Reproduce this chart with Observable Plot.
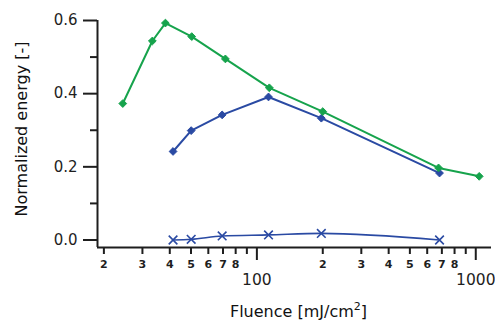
<!DOCTYPE html>
<html>
<head>
<meta charset="utf-8">
<script src="https://cdn.jsdelivr.net/npm/d3@7"></script>
<script src="https://cdn.jsdelivr.net/npm/@observablehq/plot@0.6"></script>
<style>
  html, body { margin: 0; padding: 0; background: #fff; }
  #chart { width: 495px; height: 323px; }
</style>
</head>
<body>
<div id="chart"></div>
<script>
// ---- data ----
const fluenceGreen = [24.4, 33.3, 38.2, 50.4, 71.8, 114, 200, 676, 1037];
const energyGreen  = [0.373, 0.544, 0.593, 0.556, 0.495, 0.416, 0.351, 0.197, 0.174];

const fluenceBlue  = [41.4, 50.1, 69.4, 113, 197, 683];
const energyBlue   = [0.242, 0.299, 0.342, 0.391, 0.333, 0.183];
const energyBlueX  = [0.000, 0.002, 0.011, 0.014, 0.018, 0.000];

// ---- axes ----
const xDomain = [18.7, 1180];
const yDomain = [-0.0205, 0.6];
const xMinorTicks  = [20, 30, 40, 50, 60, 70, 80, 90, 200, 300, 400, 500, 600, 700, 800, 900];
const xMinorLabels = ["2", "3", "4", "5", "6", "7", "8", "", "2", "3", "4", "5", "6", "7", "8", ""];
const xMajorTicks  = [100, 1000];
const xMajorLabels = ["100", "1000"];
const yMajorTicks  = [0, 0.2, 0.4, 0.6];
const yMajorLabels = ["0.0", "0.2", "0.4", "0.6"];
const yMinorTicks  = [0.1, 0.3, 0.5];
const xTitle = "Fluence [mJ/cm2]";
const yTitle = "Normalized energy [-]";

const green = "#16a34c";
const blue = "#2a4aa3";
const ink = "#1e1e1e";

const green_ = fluenceGreen.map((f, i) => ({f, e: energyGreen[i]}));
const blue_  = fluenceBlue.map((f, i) => ({f, e: energyBlue[i]}));
const blueX_ = fluenceBlue.map((f, i) => ({f, e: energyBlueX[i]}));

const lookup = (keys, vals) => { const m = new Map(keys.map((k, i) => [k, vals[i]])); return d => m.get(d); };

const W = 495, H = 323, mL = 97, mR = 4, mT = 20, mB = 76;
const frameH = H - mT - mB;

const plot = Plot.plot({
  width: W,
  height: H,
  marginLeft: mL,
  marginRight: mR,
  marginTop: mT,
  marginBottom: mB,
  style: {fontFamily: "'DejaVu Sans', sans-serif", color: ink, background: "#fff", overflow: "visible"},
  x: {type: "log", domain: xDomain, axis: null},
  y: {domain: yDomain},
  marks: [
    // x ticks (drawn below the frame)
    Plot.ruleX(xMinorTicks, {x: d => d, stroke: ink, strokeWidth: 2, insetTop: frameH, insetBottom: -7}),
    Plot.ruleX(xMajorTicks, {x: d => d, stroke: ink, strokeWidth: 2, insetTop: frameH, insetBottom: -13}),
    Plot.text(xMinorTicks, {x: d => d, text: xMinorLabels, frameAnchor: "bottom", lineAnchor: "top", dy: 13, fontSize: 11, fontWeight: "bold", fill: ink}),
    Plot.text(xMajorTicks, {x: d => d, text: xMajorLabels, frameAnchor: "bottom", lineAnchor: "top", dy: 26, fontSize: 15.5, fill: ink}),
    // y ticks
    Plot.axisY(yMajorTicks, {tickSize: 14, tickPadding: 6, tickFormat: lookup(yMajorTicks, yMajorLabels), fontSize: 15, strokeWidth: 2, label: null}),
    Plot.axisY(yMinorTicks, {tickSize: 7, tickFormat: () => "", strokeWidth: 2, label: null}),
    // axis lines
    Plot.ruleX([xDomain[0]], {stroke: ink, strokeWidth: 2}),
    Plot.ruleY([yDomain[0]], {stroke: ink, strokeWidth: 2}),
    // titles
    Plot.text([yTitle], {frameAnchor: "left", textAnchor: "middle", dx: -76, dy: -5, rotate: -90, fontSize: 16, fill: "#111"}),
    Plot.text([xTitle], {frameAnchor: "bottom", textAnchor: "middle", dx: 4, dy: 69, fontSize: 16, fill: "#111"}),
    // blue x series
    Plot.line(blueX_, {x: "f", y: "e", stroke: blue, strokeWidth: 1.6, curve: "monotone-x"}),
    Plot.dot(blueX_, {x: "f", y: "e", symbol: "times", r: 4, stroke: blue, strokeWidth: 1.6}),
    // blue diamonds
    Plot.line(blue_, {x: "f", y: "e", stroke: blue, strokeWidth: 2}),
    Plot.dot(blue_, {x: "f", y: "e", symbol: "diamond2", r: 3.5, fill: blue, stroke: blue, strokeWidth: 1}),
    // green diamonds
    Plot.line(green_, {x: "f", y: "e", stroke: green, strokeWidth: 2}),
    Plot.dot(green_, {x: "f", y: "e", symbol: "diamond2", r: 3.5, fill: green, stroke: green, strokeWidth: 1})
  ]
});

document.getElementById("chart").appendChild(plot);

// superscript in the x title
d3.select(plot).selectAll("text").each(function() {
  if (this.textContent === xTitle) {
    const t = d3.select(this);
    t.text(null);
    t.append("tspan").text("Fluence [mJ/cm");
    t.append("tspan").attr("dy", "-7").attr("font-size", "11").text("2");
    t.append("tspan").attr("dy", "7").text("]");
  }
});
</script>
</body>
</html>
